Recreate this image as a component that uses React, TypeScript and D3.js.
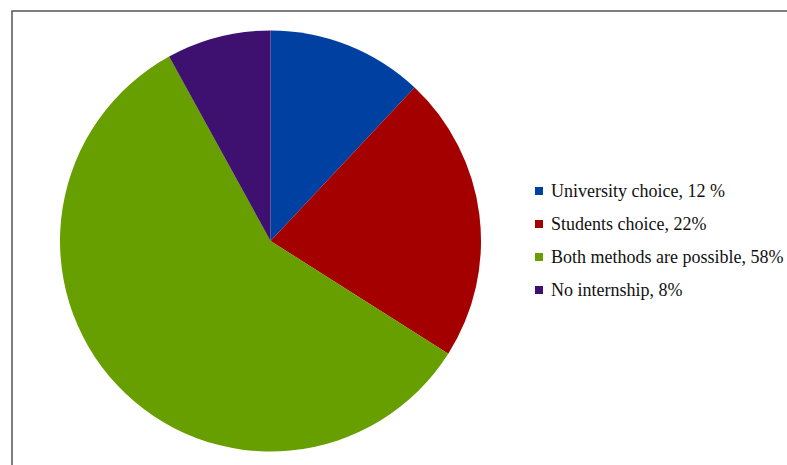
import React from "react";
import * as d3 from "d3";

const categories = [
  "University choice, 12 %",
  "Students choice, 22%",
  "Both methods are possible, 58%",
  "No internship, 8%",
];
const values = [12, 22, 58, 8];
const colors = ["#0040a0", "#a50000", "#679e00", "#3e1070"];

export default function App() {
  const W = 787, H = 465;
  const cx = 270.5, cy = 241, r = 210.5;
  const pie = d3.pie<number>().sort(null).value((d) => d);
  const arcs = pie(values);
  const arc = d3.arc<d3.PieArcDatum<number>>().innerRadius(0).outerRadius(r);
  const legendY = d3.scaleBand<number>().domain(d3.range(categories.length)).range([174.5, 306.5]);
  const ff = "\"Liberation Serif\", \"Times New Roman\", \"Liberation Sans\", sans-serif";
  return (
    <svg width={W} height={H} style={{ position: "absolute", left: 0, top: 0, background: "#fff" }}>
      <rect x={12} y={11} width={W} height={H} fill="#fff" stroke="#555" strokeWidth={1.5} />
      <g transform={`translate(${cx},${cy})`}>
        {arcs.map((a, i) => (
          <path key={i} d={arc(a) || ""} fill={colors[i]} />
        ))}
      </g>
      <g fill="#111">
        {categories.map((c, i) => {
          const y = (legendY(i) as number) + legendY.bandwidth() / 2;
          return (
            <g key={i}>
              <rect x={535} y={y - 4} width={8} height={8} fill={colors[i]} />
              <text x={551} y={y + 6} fontFamily={ff} fontSize={18}>{c}</text>
            </g>
          );
        })}
      </g>
    </svg>
  );
}
